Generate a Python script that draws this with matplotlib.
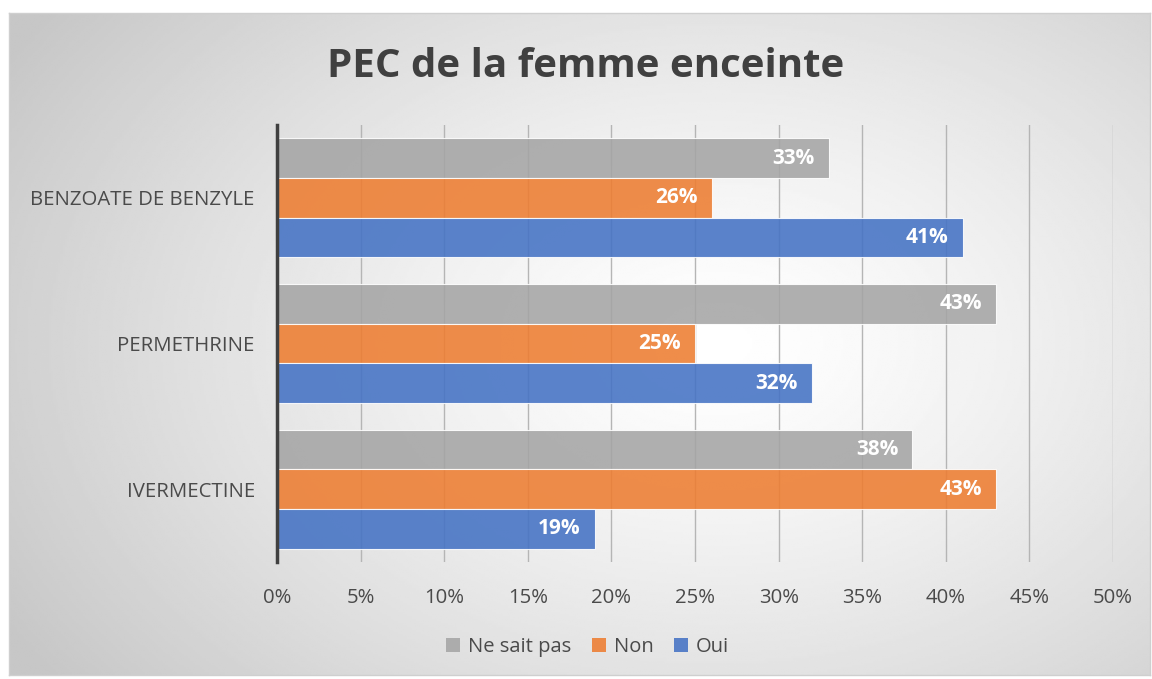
import matplotlib.pyplot as plt
from matplotlib.patches import Patch
import numpy as np

plt.rcParams['font.family'] = ['Open Sans', 'DejaVu Sans']

categories = ['IVERMECTINE', 'PERMETHRINE', 'BENZOATE DE BENZYLE']
ne_sait_pas = [38, 43, 33]
non = [43, 25, 26]
oui = [19, 32, 41]
xticks = [0, 5, 10, 15, 20, 25, 30, 35, 40, 45, 50]

c_nsp = '#A5A5A5'
c_non = '#ED7D31'
c_oui = '#4472C4'
txt = '#4A4A4A'

fig = plt.figure(figsize=(11.52, 6.79), dpi=100)

# background with radial gradient
bg = fig.add_axes([0.0078, 0.006, 0.9904, 0.975])
yy, xx = np.mgrid[0:1:300j, 0:1:500j]
r = np.sqrt(((xx - 0.62) / 0.72) ** 2 + ((yy - 0.5) / 0.85) ** 2)
r = np.clip(r, 0, 1)
img = 1.0 - 0.22 * r ** 1.3
bg.imshow(img, cmap='gray', vmin=0, vmax=1, extent=[0, 1, 0, 1], aspect='auto')
bg.set_xticks([])
bg.set_yticks([])
for s in bg.spines.values():
    s.set_color('#CFCFCF')
    s.set_linewidth(1)
bg.set_zorder(-1)

ax = fig.add_axes([0.2405, 0.1723, 0.7257, 0.6437])
ax.set_facecolor('none')

y = np.arange(len(categories))
h = 0.272
groups = [(ne_sait_pas, c_nsp, h, 'Ne sait pas'), (non, c_non, 0, 'Non'), (oui, c_oui, -h, 'Oui')]
for vals, col, off, lab in groups:
    bars = ax.barh(y + off, vals, height=h, color=col, alpha=0.88,
                   edgecolor='white', linewidth=0.8, zorder=3)
    for b, v in zip(bars, vals):
        ax.text(v - 0.85, b.get_y() + b.get_height() / 2, f'{v}%', ha='right', va='center',
                color='white', fontsize=15, fontweight='bold', zorder=4)

ax.set_xlim(0, 50)
ax.set_ylim(-0.5, 2.5)
ax.set_xticks(xticks)
ax.set_xticklabels([f'{t}%' for t in xticks])
ax.set_yticks(y)
ax.set_yticklabels(categories)
ax.tick_params(axis='both', length=0, labelsize=14.7, colors=txt)
ax.tick_params(axis='x', pad=19)
ax.tick_params(axis='y', pad=16)
ax.grid(axis='x', color='#B5B5B5', linewidth=1, zorder=0)
for s in ['top', 'right', 'bottom']:
    ax.spines[s].set_visible(False)
ax.spines['left'].set_color('#404040')
ax.spines['left'].set_linewidth(2.5)
ax.spines['left'].set_zorder(5)

fig.text(0.508, 0.902, 'PEC de la femme enceinte', ha='center', va='center',
         fontsize=29, fontweight='bold', color='#404040')

handles = [Patch(facecolor=col, alpha=0.88, label=lab) for _, col, _, lab in groups]
fig.legend(handles=handles, loc='center', bbox_to_anchor=(0.51, 0.047), ncol=3,
           frameon=False, fontsize=14.5, handlelength=0.7, handleheight=0.7,
           handletextpad=0.4, columnspacing=1.0, labelcolor=txt)

fig.savefig('out.png', dpi=100)
